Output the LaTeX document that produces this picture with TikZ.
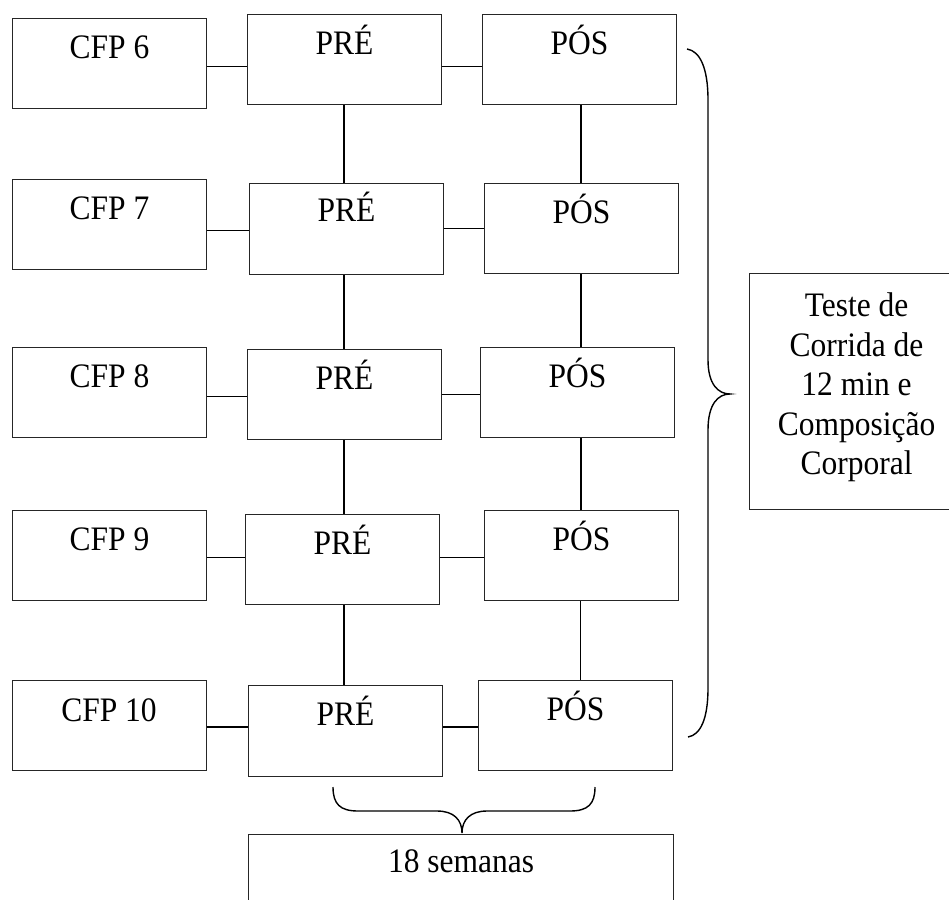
\documentclass[tikz,border=0pt]{standalone}
\usepackage{fontspec}
\setmainfont{Liberation Serif}[FakeStretch=0.918]
\begin{document}
\begin{tikzpicture}[x=1pt,y=-1pt,
  bx/.style={draw=black!85, line width=1.1pt, anchor=north west, minimum width=194pt,
    inner sep=0pt, text height=40pt, text depth=50pt, font=\fontsize{34.3}{40}\selectfont},
  ln/.style={draw=black, line width=1.4pt},
  br/.style={draw=black, line width=1.4pt}]
\useasboundingbox (0,0) rectangle (949,899);
% row 6
\node[bx] (cfp6) at (12,18) {CFP 6};
\node[bx] (pre6) at (247,14) {PRÉ};
\node[bx] (pos6) at (482,14) {PÓS};
% row 7
\node[bx] (cfp7) at (12,179) {CFP 7};
\node[bx, text height=38pt, text depth=53pt] (pre7) at (249,183) {PRÉ};
\node[bx] (pos7) at (484,183) {PÓS};
% row 8
\node[bx] (cfp8) at (12,347) {CFP 8};
\node[bx] (pre8) at (247,349) {PRÉ};
\node[bx] (pos8) at (480,347) {PÓS};
% row 9
\node[bx] (cfp9) at (12,510) {CFP 9};
\node[bx] (pre9) at (245,514) {PRÉ};
\node[bx] (pos9) at (484,510) {PÓS};
% row 10
\node[bx, text height=41pt, text depth=49pt] (cfp10) at (11.5,680) {CFP 10};
\node[bx, text height=40pt, text depth=51pt] (pre10) at (248,685) {PRÉ};
\node[bx] (pos10) at (478,680) {PÓS};
% side boxes
\node[bx, minimum width=425pt, text height=38pt, text depth=45pt] (sem) at (248,834) {18 semanas};
\node[bx, minimum width=214pt, text height=43pt, text depth=193pt,
  font=\fontsize{34.3}{39.5}\selectfont] (teste) at (749,273)
  {\begin{tabular}[t]{@{}c@{}}Teste de\\Corrida de\\12 min e\\Composição\\Corporal\end{tabular}};
% horizontal connectors
\draw[ln] (cfp6.east |- 0,66.7) -- (pre6.west |- 0,66.7);
\draw[ln] (pre6.east |- 0,66.7) -- (pos6.west |- 0,66.7);
\draw[ln] (cfp7.east |- 0,230.7) -- (pre7.west |- 0,230.7);
\draw[ln] (pre7.east |- 0,228.7) -- (pos7.west |- 0,228.7);
\draw[ln] (cfp8.east |- 0,396.7) -- (pre8.west |- 0,396.7);
\draw[ln] (pre8.east |- 0,394.7) -- (pos8.west |- 0,394.7);
\draw[ln] (cfp9.east |- 0,557.7) -- (pre9.west |- 0,557.7);
\draw[ln] (pre9.east |- 0,557.7) -- (pos9.west |- 0,557.7);
\draw[ln] (cfp10.east |- 0,727) -- (pre10.west |- 0,727);
\draw[ln] (pre10.east |- 0,727) -- (pos10.west |- 0,727);
% vertical connectors
\draw[ln] (pre6.south -| 344,0) -- (pre7.north -| 344,0);
\draw[ln] (pre7.south -| 344,0) -- (pre8.north -| 344,0);
\draw[ln] (pre8.south -| 344,0) -- (pre9.north -| 344,0);
\draw[ln] (pre9.south -| 344,0) -- (pre10.north -| 344,0);
\draw[ln] (pos6.south -| 581,0) -- (pos7.north -| 581,0);
\draw[ln] (pos7.south -| 581,0) -- (pos8.north -| 581,0);
\draw[ln] (pos8.south -| 581,0) -- (pos9.north -| 581,0);
\draw[ln] (pos9.south -| 580.5,0) -- (pos10.north -| 580.5,0);
% right brace
\coordinate (rbt) at (687,49);
\coordinate (rbm) at (730,394);
\coordinate (rbb) at (688,737);
\draw[br] (rbt) .. controls (700,51) and (708,68) .. (708,100) -- (708,360)
  .. controls (708,384) and (718,394) .. (rbm)
  .. controls (718,394) and (708,404) .. (708,430) -- (708,688)
  .. controls (708,720) and (700,735) .. (rbb);
% bottom brace
\coordinate (bbl) at (333,787);
\coordinate (bbm) at (462,833);
\coordinate (bbr) at (595,787);
\draw[br] (bbl) .. controls (333,804) and (340,811) .. (358,811) -- (437,811)
  .. controls (454,811) and (462,820) .. (bbm)
  .. controls (462,820) and (470,811) .. (487,811) -- (570,811)
  .. controls (588,811) and (595,804) .. (bbr);
\end{tikzpicture}
\end{document}
